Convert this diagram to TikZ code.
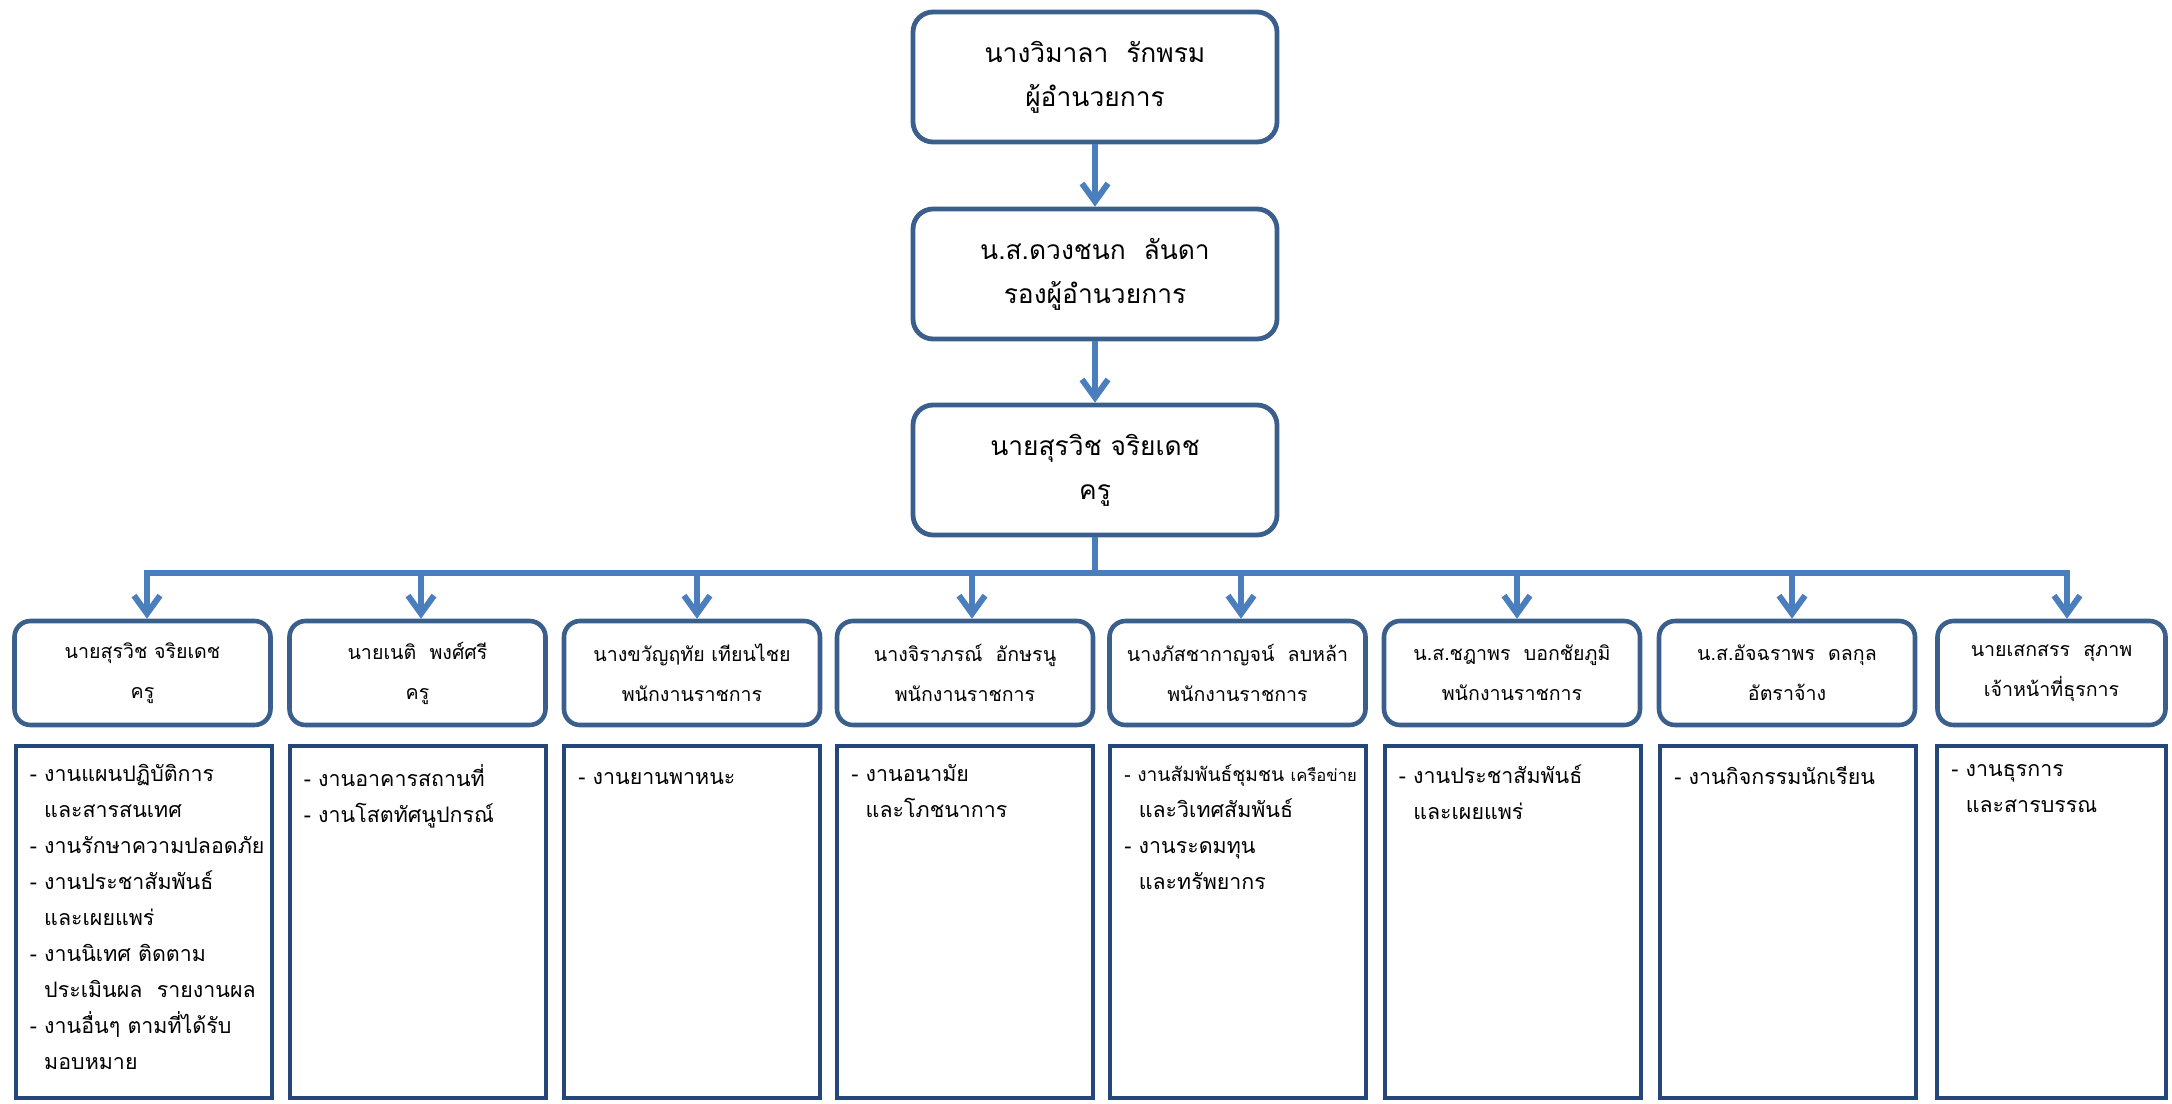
\documentclass[tikz,border=0pt]{standalone}
\usepackage{fontspec}
\newfontfamily\thaifont[Script=Thai]{Loma}
\usetikzlibrary{positioning,arrows.meta}
\definecolor{boxline}{RGB}{58,95,140}
\definecolor{arrowline}{RGB}{74,126,189}
\definecolor{dutyline}{RGB}{36,70,122}
\tikzstyle{head box}  = [draw=boxline, line width=2.4pt, rounded corners=10pt,
                         minimum width=182pt, minimum height=65pt, align=center,
                         font=\thaifont\fontsize{13.2}{22}\selectfont]
\tikzstyle{staff box} = [draw=boxline, line width=2.3pt, rounded corners=8pt,
                         minimum width=128pt, minimum height=52pt, align=center,
                         font=\thaifont\fontsize{9.8}{20}\selectfont]
\tikzstyle{duty box}  = [draw=dutyline, line width=2pt, minimum width=128pt, minimum height=176pt]
\tikzstyle{duty text} = [align=left, inner sep=0pt, font=\thaifont\fontsize{10.7}{18}\selectfont,
                         execute at begin node=\rule{0pt}{10pt}]
\tikzstyle{link}      = [draw=arrowline, line width=3pt]
\newcommand{\sub}{\hphantom{- }}

\begin{document}
\begin{tikzpicture}[x=0.5pt, y=-0.5pt,
                    barb/.tip={Straight Barb[length=9pt,width=13pt]}
                    ]
\useasboundingbox (0,0) rectangle (2172,1103);

    % Director, deputy, teacher in charge
    \node(top)[head box] at (1095,77) {นางวิมาลา~~รักพรม\\ผู้อำนวยการ};
    \node(deputy)[head box] at (1095,274) {น.ส.ดวงชนก~~ลันดา\\รองผู้อำนวยการ};
    \node(chief)[head box] at (1095,470) {นายสุรวิช จริยเดช\\ครู};

    \draw[link, -barb] (top) -- (deputy);
    \draw[link, -barb] (deputy) -- (chief);

    % Staff row
    \node(s1)[staff box] at (142.5,673) {นายสุรวิช จริยเดช\\ครู};
    \node(s2)[staff box] at (417.5,673) {นายเนติ~~พงศ์ศรี\\ครู};
    \node(s3)[staff box] at (692,673) {นางขวัญฤทัย เทียนไชย\\พนักงานราชการ};
    \node(s4)[staff box] at (965,673) {นางจิราภรณ์~~อักษรนู\\พนักงานราชการ};
    \node(s5)[staff box] at (1237.5,673) {นางภัสชากาญจน์~~ลบหล้า\\พนักงานราชการ};
    \node(s6)[staff box] at (1512,673) {น.ส.ชฎาพร~~บอกชัยภูมิ\\พนักงานราชการ};
    \node(s7)[staff box] at (1787,673) {น.ส.อัจฉราพร~~ดลกุล\\อัตราจ้าง};
    \node(s8)[staff box, minimum width=114pt] at (2051.5,673) {นายเสกสรร~~สุภาพ\\เจ้าหน้าที่ธุรการ};

    % Branch bar
    \coordinate(a1) at (147,573);
    \coordinate(a2) at (421,573);
    \coordinate(a3) at (697,573);
    \coordinate(a4) at (972,573);
    \coordinate(a5) at (1241,573);
    \coordinate(a6) at (1517,573);
    \coordinate(a7) at (1792,573);
    \coordinate(a8) at (2067,573);

    \draw[link] (chief) -- (chief |- a1);
    \draw[link, barb-barb] (a1 |- s1.north) -- (a1) -- (a8) -- (a8 |- s8.north);
    \draw[link, -barb] (a2) -- (a2 |- s2.north);
    \draw[link, -barb] (a3) -- (a3 |- s3.north);
    \draw[link, -barb] (a4) -- (a4 |- s4.north);
    \draw[link, -barb] (a5) -- (a5 |- s5.north);
    \draw[link, -barb] (a6) -- (a6 |- s6.north);
    \draw[link, -barb] (a7) -- (a7 |- s7.north);

    % Duty lists
    \node(d1)[duty box] at (143.5,922) {};
    \node(d2)[duty box] at (417.5,922) {};
    \node(d3)[duty box] at (692,922) {};
    \node(d4)[duty box] at (965,922) {};
    \node(d5)[duty box] at (1238,922) {};
    \node(d6)[duty box] at (1512.5,922) {};
    \node(d7)[duty box] at (1788,922) {};
    \node(d8)[duty box, minimum width=114.5pt] at (2051.5,922) {};

    \node(t1)[duty text, below right=10pt and 8pt of d1.north west]
        {- งานแผนปฏิบัติการ\\\sub และสารสนเทศ\\- งานรักษาความปลอดภัย\\- งานประชาสัมพันธ์\\\sub และเผยแพร่\\- งานนิเทศ ติดตาม\\\sub ประเมินผล~~รายงานผล\\- งานอื่นๆ ตามที่ได้รับ\\\sub มอบหมาย};
    \node(t2)[duty text, below right=10pt and 8pt of d2.north west]
        {- งานอาคารสถานที่\\- งานโสตทัศนูปกรณ์};
    \node(t3)[duty text, below right=10pt and 8pt of d3.north west]
        {- งานยานพาหนะ};
    \node(t4)[duty text, below right=10pt and 8pt of d4.north west]
        {- งานอนามัย\\\sub และโภชนาการ};
    \node(t5)[duty text, below right=10pt and 8pt of d5.north west]
        {{\fontsize{9.6}{18}\selectfont - งานสัมพันธ์ชุมชน {\fontsize{8.3}{18}\selectfont เครือข่าย}}\\\sub และวิเทศสัมพันธ์\\- งานระดมทุน\\\sub และทรัพยากร};
    \node(t6)[duty text, below right=10pt and 8pt of d6.north west]
        {- งานประชาสัมพันธ์\\\sub และเผยแพร่};
    \node(t7)[duty text, below right=10pt and 8pt of d7.north west]
        {- งานกิจกรรมนักเรียน};
    \node(t8)[duty text, below right=10pt and 8pt of d8.north west]
        {- งานธุรการ\\\sub และสารบรรณ};

\end{tikzpicture}
\end{document}
